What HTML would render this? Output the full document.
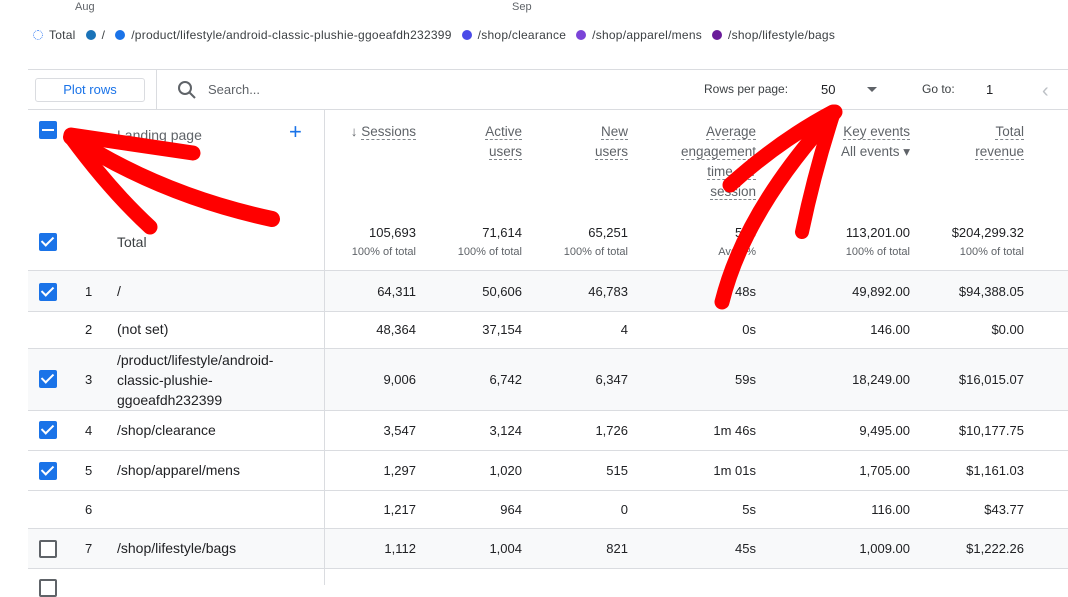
<!DOCTYPE html>
<html><head><style>
body{margin:0;width:1068px;height:585px;overflow:hidden;background:#fff;font-family:"Liberation Sans",Arial,sans-serif;color:#202124;position:relative}
.a{position:absolute;white-space:nowrap}
.hl{position:absolute;left:28px;right:0;height:1px;background:#dadce0}
.r{text-align:right}
.cb{position:absolute;left:39px;width:18px;height:18px;border-radius:2px;background:#1a73e8}
.cb.c::after{content:"";position:absolute;left:5px;top:1px;width:5px;height:10px;border:solid #fff;border-width:0 2.5px 2.5px 0;transform:rotate(45deg)}
.cb.e{background:#fff;border:2px solid #5f6368;width:14px;height:14px}
.row{position:absolute;left:28px;right:0}
.g{background:#f8f9fa}
.hd{font-size:13.5px;color:#5f6368;line-height:20px}
.hd span{border-bottom:1px dashed #80868b}
.num{font-size:13px}
.lb{font-size:14px}
.sub{font-size:11px;color:#5f6368}
.dot{display:inline-block;width:10px;height:10px;border-radius:50%;margin:0 6px 0 10px;vertical-align:-1px}
.a.num br+span{display:inline-block;margin-top:6px}
</style></head><body>
<div class="a" style="left:75px;top:1px;font-size:11px;color:#5f6368">Aug</div>
<div class="a" style="left:512px;top:1px;font-size:11px;color:#5f6368">Sep</div>
<div class="a" style="left:33px;top:28px;font-size:12px;color:#3c4043;letter-spacing:0.25px">
<span class="dot" style="border:1.5px dotted #4285f4;width:8px;height:8px;margin-left:0"></span>Total<span class="dot" style="background:#1a73b8"></span>/<span class="dot" style="background:#1a73e8"></span>/product/lifestyle/android-classic-plushie-ggoeafdh232399<span class="dot" style="background:#4a4ae8"></span>/shop/clearance<span class="dot" style="background:#7b44d8"></span>/shop/apparel/mens<span class="dot" style="background:#6a1b9a"></span>/shop/lifestyle/bags</div>

<div class="hl" style="top:69px"></div>
<div class="hl" style="top:109px"></div>
<div class="a" style="left:156px;top:69px;width:1px;height:40px;background:#dadce0"></div>
<div class="a" style="left:35px;top:78px;width:108px;height:22px;border:1px solid #dadce0;border-radius:3px;text-align:center;line-height:22px;font-size:13px;color:#1a73e8">Plot rows</div>
<svg class="a" style="left:177px;top:80px" width="20" height="20"><circle cx="8" cy="8" r="6" fill="none" stroke="#5f6368" stroke-width="2"/><line x1="12.5" y1="12.5" x2="18" y2="18" stroke="#5f6368" stroke-width="2"/></svg>
<div class="a" style="left:208px;top:82px;font-size:13px;color:#5f6368">Search...</div>
<div class="a" style="left:704px;top:82px;font-size:12px;color:#3c4043">Rows per page:</div>
<div class="a" style="left:821px;top:82px;font-size:13px">50</div>
<div class="a" style="left:867px;top:87px;border:5px solid transparent;border-top-color:#5f6368;border-bottom:0"></div>
<div class="a" style="left:922px;top:82px;font-size:12px;color:#3c4043">Go to:</div>
<div class="a" style="left:986px;top:82px;font-size:13px">1</div>
<div class="a" style="left:1042px;top:80px;font-size:20px;color:#bdc1c6">&lsaquo;</div>

<div class="row g" style="top:271px;height:40px"></div>
<div class="row g" style="top:349px;height:61px"></div>
<div class="row g" style="top:529px;height:39px"></div>
<div class="hl" style="top:270px"></div><div class="hl" style="top:311px"></div><div class="hl" style="top:348px"></div><div class="hl" style="top:410px"></div><div class="hl" style="top:450px"></div><div class="hl" style="top:490px"></div><div class="hl" style="top:528px"></div><div class="hl" style="top:568px"></div>
<div class="a" style="left:324px;top:109px;width:1px;height:476px;background:#dadce0"></div>

<div class="cb" style="top:121px"><div style="position:absolute;left:3px;top:8px;width:12px;height:2px;background:#fff"></div></div>
<div class="a" style="left:117px;top:127px;font-size:14px;color:#5f6368">Landing page</div>
<div class="a" style="left:289px;top:121px;font-size:22px;color:#1a73e8;line-height:22px">+</div>
<div class="a hd r" style="right:652px;top:122px">&darr; <span>Sessions</span></div>
<div class="a hd r" style="right:546px;top:122px"><span>Active</span><br><span>users</span></div>
<div class="a hd r" style="right:440px;top:122px"><span>New</span><br><span>users</span></div>
<div class="a hd r" style="right:312px;top:122px"><span>Average</span><br><span>engagement</span><br><span>time per</span><br><span>session</span></div>
<div class="a hd r" style="right:158px;top:122px"><span>Key events</span><br>All events &#9662;</div>
<div class="a hd r" style="right:44px;top:122px"><span>Total</span><br><span>revenue</span></div>

<div class="cb c" style="top:233px"></div>
<div class="a lb" style="left:117px;top:234px;color:#3c4043">Total</div>
<div class="a num r" style="right:652px;top:225px">105,693<br><span class="sub">100% of total</span></div>
<div class="a num r" style="right:546px;top:225px">71,614<br><span class="sub">100% of total</span></div>
<div class="a num r" style="right:440px;top:225px">65,251<br><span class="sub">100% of total</span></div>
<div class="a num r" style="right:312px;top:225px">50s<br><span class="sub">Avg 0%</span></div>
<div class="a num r" style="right:158px;top:225px">113,201.00<br><span class="sub">100% of total</span></div>
<div class="a num r" style="right:44px;top:225px">$204,299.32<br><span class="sub">100% of total</span></div>

<div class="cb c" style="top:283px"></div><div class="a num" style="left:85px;top:284px">1</div><div class="a lb" style="left:117px;top:283px">/</div>
<div class="a num r" style="right:652px;top:284px">64,311</div><div class="a num r" style="right:546px;top:284px">50,606</div><div class="a num r" style="right:440px;top:284px">46,783</div><div class="a num r" style="right:312px;top:284px">48s</div><div class="a num r" style="right:158px;top:284px">49,892.00</div><div class="a num r" style="right:44px;top:284px">$94,388.05</div>

<div class="a num" style="left:85px;top:322px">2</div><div class="a lb" style="left:117px;top:321px">(not set)</div>
<div class="a num r" style="right:652px;top:322px">48,364</div><div class="a num r" style="right:546px;top:322px">37,154</div><div class="a num r" style="right:440px;top:322px">4</div><div class="a num r" style="right:312px;top:322px">0s</div><div class="a num r" style="right:158px;top:322px">146.00</div><div class="a num r" style="right:44px;top:322px">$0.00</div>

<div class="cb c" style="top:370px"></div><div class="a num" style="left:85px;top:372px">3</div><div class="a lb" style="left:117px;top:350px;line-height:20px">/product/lifestyle/android-<br>classic-plushie-<br>ggoeafdh232399</div>
<div class="a num r" style="right:652px;top:372px">9,006</div><div class="a num r" style="right:546px;top:372px">6,742</div><div class="a num r" style="right:440px;top:372px">6,347</div><div class="a num r" style="right:312px;top:372px">59s</div><div class="a num r" style="right:158px;top:372px">18,249.00</div><div class="a num r" style="right:44px;top:372px">$16,015.07</div>

<div class="cb c" style="top:421px"></div><div class="a num" style="left:85px;top:423px">4</div><div class="a lb" style="left:117px;top:422px">/shop/clearance</div>
<div class="a num r" style="right:652px;top:423px">3,547</div><div class="a num r" style="right:546px;top:423px">3,124</div><div class="a num r" style="right:440px;top:423px">1,726</div><div class="a num r" style="right:312px;top:423px">1m 46s</div><div class="a num r" style="right:158px;top:423px">9,495.00</div><div class="a num r" style="right:44px;top:423px">$10,177.75</div>

<div class="cb c" style="top:462px"></div><div class="a num" style="left:85px;top:463px">5</div><div class="a lb" style="left:117px;top:462px">/shop/apparel/mens</div>
<div class="a num r" style="right:652px;top:463px">1,297</div><div class="a num r" style="right:546px;top:463px">1,020</div><div class="a num r" style="right:440px;top:463px">515</div><div class="a num r" style="right:312px;top:463px">1m 01s</div><div class="a num r" style="right:158px;top:463px">1,705.00</div><div class="a num r" style="right:44px;top:463px">$1,161.03</div>

<div class="a num" style="left:85px;top:502px">6</div>
<div class="a num r" style="right:652px;top:502px">1,217</div><div class="a num r" style="right:546px;top:502px">964</div><div class="a num r" style="right:440px;top:502px">0</div><div class="a num r" style="right:312px;top:502px">5s</div><div class="a num r" style="right:158px;top:502px">116.00</div><div class="a num r" style="right:44px;top:502px">$43.77</div>

<div class="cb e" style="top:540px"></div><div class="a num" style="left:85px;top:541px">7</div><div class="a lb" style="left:117px;top:540px">/shop/lifestyle/bags</div>
<div class="a num r" style="right:652px;top:541px">1,112</div><div class="a num r" style="right:546px;top:541px">1,004</div><div class="a num r" style="right:440px;top:541px">821</div><div class="a num r" style="right:312px;top:541px">45s</div><div class="a num r" style="right:158px;top:541px">1,009.00</div><div class="a num r" style="right:44px;top:541px">$1,222.26</div>
<div class="cb e" style="top:579px"></div>

<svg class="a" style="left:0;top:0" width="1068" height="585">
<g fill="none" stroke="#ff0000" stroke-linecap="round" stroke-linejoin="round">
<path d="M71,135 L193,153" stroke-width="15"/>
<path d="M71,137 Q160,195 272,219" stroke-width="16"/>
<path d="M71,137 Q110,190 150,227" stroke-width="15"/>
<path d="M722,302 Q745,210 835,112" stroke-width="15"/>
<path d="M833,112 Q780,140 730,185" stroke-width="15"/>
<path d="M834,112 Q815,170 802,232" stroke-width="14"/>
</g></svg>
</body></html>
